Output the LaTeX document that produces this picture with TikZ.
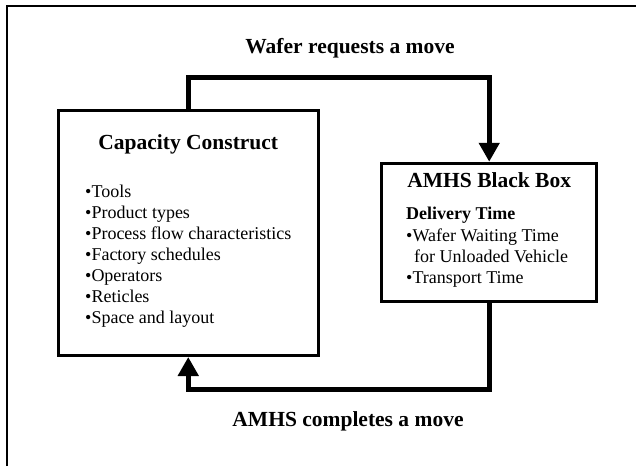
\documentclass[tikz,border=0pt]{standalone}
\usepackage{fontspec}
\setmainfont{Liberation Serif}
\usetikzlibrary{positioning,arrows.meta}
\definecolor{ink}{HTML}{000000}
\newcommand{\bigbf}{\fontsize{21.5}{24}\selectfont\bfseries}
\newcommand{\itemsz}{\fontsize{18}{21.1}\selectfont}

\begin{document}
\begin{tikzpicture}[x=1pt,y=-1pt,
    box/.style={draw=ink, line width=3pt, inner sep=0pt},
    flow/.style={draw=ink, line width=4.7pt, -{Triangle[length=19pt,width=20pt]}},
    heading/.style={font=\bigbf, inner sep=0pt, anchor=base},
    list/.style={font=\itemsz, align=left, inner sep=0pt, anchor=north west}]
  \useasboundingbox (0,0) rectangle (636,466);
  \draw[ink, line width=2pt] (6.5,466) -- (6.5,6) -- (636,6);

  % the two boxes
  \node[box, minimum width=259.5pt, minimum height=245pt] (capbox) at (188.25,233) {};
  \node[box, minimum width=215pt, minimum height=138pt] (amhs) at (489.2,232.25) {};

  \node[heading, yshift=-40pt] (captitle) at (capbox.north) {Capacity Construct};
  \node[heading, yshift=-26pt] (amhstitle) at (amhs.north) {AMHS Black Box};

  \node[list] (caplist) at (85,184.5) {%
    •Tools\\ •Product types\\ •Process flow characteristics\\ •Factory schedules\\
    •Operators\\ •Reticles\\ •Space and layout};
  \node[list] (amhslist) at (406,207.3) {%
    {\bfseries Delivery Time}\\ •Wafer Waiting Time\\ \hspace*{8pt}for Unloaded Vehicle\\
    •Transport Time};

  % the loop
  \draw[flow] (capbox.north) -- ++(0,-31.8) -| (amhs.north);
  \draw[flow] (amhs.south) -- ++(0,86.7) -| (capbox.south);

  \node[heading] (reqlabel) at (350,53) {Wafer requests a move};
  \node[heading] (donelabel) at (348,426.7) {AMHS completes a move};
\end{tikzpicture}
\end{document}
